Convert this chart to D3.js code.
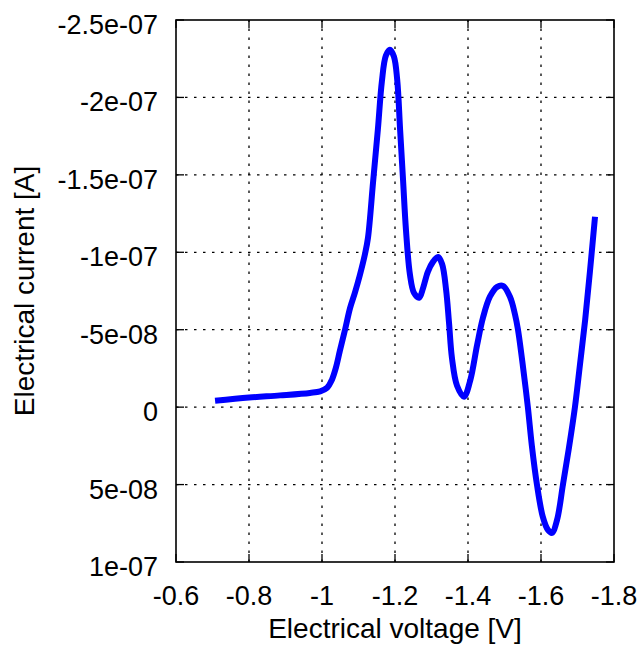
<!DOCTYPE html>
<html>
<head>
<meta charset="utf-8">
<script src="https://cdn.jsdelivr.net/npm/d3@7/dist/d3.min.js"></script>
<style>
  html, body { margin: 0; padding: 0; background: #fff; }
  svg { display: block; }
  text { font-family: "Liberation Sans", Arial, Helvetica, sans-serif; fill: #000; }
</style>
</head>
<body>
<script>
// Voltammogram: electrical current vs. electrical voltage
const voltage = [
  -0.707, -0.800, -0.885, -0.967, -0.995, -1.014, -1.027, -1.038, -1.049, -1.063,
  -1.077, -1.090, -1.104, -1.118, -1.126, -1.140, -1.153, -1.164, -1.175, -1.186,
  -1.197, -1.206, -1.214, -1.222, -1.230, -1.241, -1.252, -1.266, -1.277, -1.290,
  -1.304, -1.318, -1.329, -1.340, -1.348, -1.356, -1.370, -1.389, -1.406, -1.425,
  -1.441, -1.460, -1.480, -1.496, -1.515, -1.529, -1.537, -1.551, -1.564, -1.575,
  -1.589, -1.605, -1.619, -1.630, -1.644, -1.660, -1.677, -1.693, -1.707, -1.721,
  -1.734, -1.748
];
const current = [
  -4.1e-9, -6.2e-9, -7.6e-9, -9.2e-9, -10.2e-9, -12.5e-9, -17.6e-9, -25.4e-9, -36.4e-9, -49.9e-9,
  -64.1e-9, -73.8e-9, -85.5e-9, -99.1e-9, -109.4e-9, -145.6e-9, -179.1e-9, -210.2e-9, -227.0e-9, -230.8e-9,
  -226.4e-9, -211.5e-9, -179.1e-9, -146.9e-9, -114.6e-9, -85.5e-9, -73.8e-9, -70.6e-9, -77.0e-9, -87.4e-9,
  -93.8e-9, -97.0e-9, -92.5e-9, -75.7e-9, -54.5e-9, -31.8e-9, -13.8e-9, -6.7e-9, -17.1e-9, -40.2e-9,
  -57.7e-9, -71.3e-9, -77.7e-9, -78.3e-9, -71.3e-9, -59.6e-9, -49.9e-9, -25.4e-9, 0.0e-9, 25.0e-9,
  50.2e-9, 70.9e-9, 79.3e-9, 81.2e-9, 72.8e-9, 50.2e-9, 25.6e-9, 0.0e-9, -28.0e-9, -56.4e-9,
  -87.4e-9, -123.0e-9
];

// Axis ticks and their labels
const xTicks = [-0.6, -0.8, -1.0, -1.2, -1.4, -1.6, -1.8];
const xTickLabels = ["-0.6", "-0.8", "-1", "-1.2", "-1.4", "-1.6", "-1.8"];
const yTicks = [-2.5e-7, -2e-7, -1.5e-7, -1e-7, -5e-8, 0, 5e-8, 1e-7];
const yTickLabels = ["-2.5e-07", "-2e-07", "-1.5e-07", "-1e-07", "-5e-08", "0", "5e-08", "1e-07"];

const width = 640, height = 646;
const margin = { left: 176, right: 26, top: 20, bottom: 84 };
const plotW = width - margin.left - margin.right;
const plotH = height - margin.top - margin.bottom;

const svg = d3.select("body").append("svg")
  .attr("width", width).attr("height", height);

// Both axes run reversed: voltage grows more negative to the right,
// current grows more negative upward.
const x = d3.scaleLinear().domain([-0.6, -1.8]).range([margin.left, margin.left + plotW]);
const y = d3.scaleLinear().domain([1e-7, -2.5e-7]).range([margin.top + plotH, margin.top]);

const x0 = margin.left, x1 = margin.left + plotW;
const y0 = margin.top + plotH, y1 = margin.top;
const tickLen = 8;

// Dotted grid
const grid = svg.append("g")
  .attr("stroke", "#000").attr("stroke-width", 1.3).attr("stroke-dasharray", "2.5,6.5");
grid.selectAll("line.vx").data(xTicks.slice(1, -1)).join("line")
  .attr("x1", d => x(d)).attr("x2", d => x(d)).attr("y1", y0).attr("y2", y1);
grid.selectAll("line.hy").data(yTicks.slice(1, -1)).join("line")
  .attr("x1", x0).attr("x2", x1).attr("y1", d => y(d)).attr("y2", d => y(d));

// Inward tick marks on all four sides
const ticks = svg.append("g").attr("stroke", "#000").attr("stroke-width", 1.3);
xTicks.forEach(t => {
  ticks.append("line").attr("x1", x(t)).attr("x2", x(t)).attr("y1", y0).attr("y2", y0 - tickLen);
  ticks.append("line").attr("x1", x(t)).attr("x2", x(t)).attr("y1", y1).attr("y2", y1 + tickLen);
});
yTicks.forEach(t => {
  ticks.append("line").attr("x1", x0).attr("x2", x0 + tickLen).attr("y1", y(t)).attr("y2", y(t));
  ticks.append("line").attr("x1", x1).attr("x2", x1 - tickLen).attr("y1", y(t)).attr("y2", y(t));
});

// Data curve
const pts = voltage.map((v, i) => [v, current[i]]);
const line = d3.line()
  .x(d => x(d[0])).y(d => y(d[1]))
  .curve(d3.curveCatmullRom.alpha(0.5));
svg.append("path")
  .datum(pts)
  .attr("d", line)
  .attr("fill", "none")
  .attr("stroke", "#0000ff")
  .attr("stroke-width", 6)
  .attr("stroke-linejoin", "round")
  .attr("stroke-linecap", "butt");

// Frame
svg.append("rect")
  .attr("x", x0).attr("y", y1).attr("width", plotW).attr("height", plotH)
  .attr("fill", "none").attr("stroke", "#000").attr("stroke-width", 1.6);

// Tick labels
svg.append("g").selectAll("text").data(xTicks).join("text")
  .attr("x", d => x(d)).attr("y", y0 + 43)
  .attr("text-anchor", "middle").attr("font-size", 27)
  .text((d, i) => xTickLabels[i]);
svg.append("g").selectAll("text").data(yTicks).join("text")
  .attr("x", x0 - 18).attr("y", d => y(d) + 14)
  .attr("text-anchor", "end").attr("font-size", 27)
  .text((d, i) => yTickLabels[i]);

// Axis titles
svg.append("text")
  .attr("x", (x0 + x1) / 2).attr("y", 638)
  .attr("text-anchor", "middle").attr("font-size", 28)
  .text("Electrical voltage [V]");
svg.append("text")
  .attr("transform", `translate(34, ${(y0 + y1) / 2}) rotate(-90)`)
  .attr("text-anchor", "middle").attr("font-size", 28)
  .text("Electrical current [A]");
</script>
</body>
</html>
